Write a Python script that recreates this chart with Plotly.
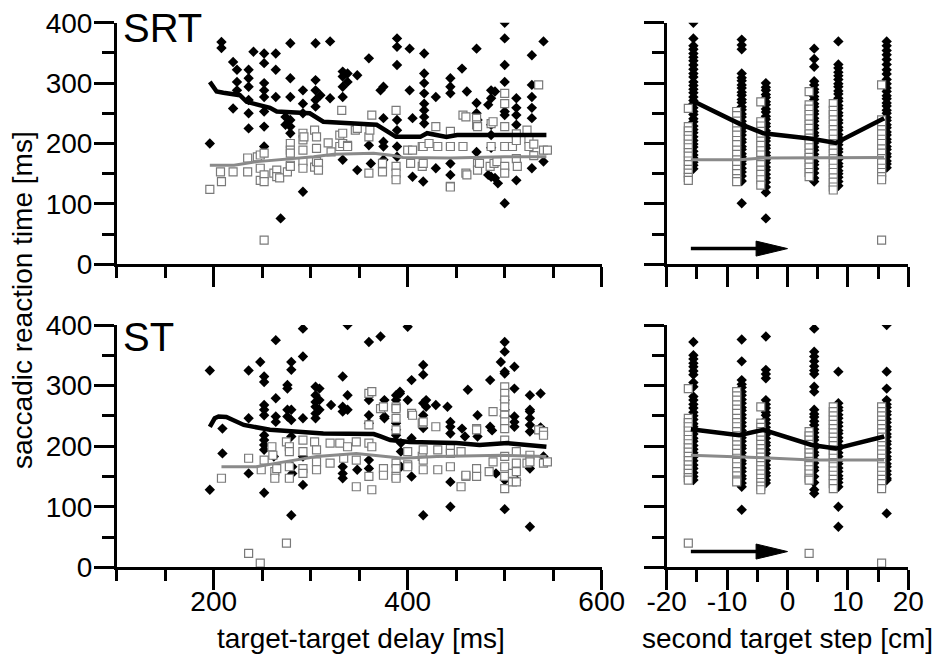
import plotly.graph_objects as go

W, H = 943, 657

# ======================= DATA =======================
# --- SRT vs target-target delay (ms) : black diamonds (per delay group) ---
srt_delay_black = [
    (196, [200]), (208, [368, 358]), (220, [335, 258]), (224, [322, 302, 288]),
    (236, [322, 308, 294, 272, 250, 225]), (241, [352]),
    (252, [349, 333, 300, 288, 277, 253, 228, 195]), (264, [349, 322, 277]),
    (269, [76]), (274, [244, 231]), (279, [366, 308, 277, 239, 228, 217]),
    (292, [288, 266, 250, 120]), (305, [366, 305, 288, 272, 261]), (310, [280]),
    (320, [369, 275]), (333, [319, 311, 294, 277, 173]), (338, [316, 302]),
    (348, [313, 156]), (360, [341, 197]), (362, [167]), (372, [288]),
    (375, [294, 242, 203, 195, 173]), (389, [374, 360, 330, 239, 222, 195, 178]),
    (402, [357, 288]), (405, [242, 145]), (416, [137]),
    (417, [349, 316, 300, 283, 266, 255, 244, 233]), (429, [277, 159]),
    (444, [308, 294, 283, 167, 148]), (456, [324]), (461, [286]),
    (471, [357, 267, 250, 186]), (472, [239]), (483, [264, 148]),
    (486, [288, 275, 231, 214, 193, 145]), (490, [286, 143]), (493, [134]),
    (500, [400, 374, 330, 302, 253, 247, 101]), (512, [275, 259, 247, 231, 139]),
    (528, [346, 297, 277, 259, 242, 159]), (540, [369, 170]),
]
# --- SRT vs delay : open grey squares ---
srt_delay_grey = [
    (196, [124]), (207, [153]), (208, [137]), (220, [153]), (235, [153, 176]),
    (245, [178]), (248, [181, 159, 139]), (252, [184, 148, 137, 40]),
    (262, [151]), (265, [156, 145]), (268, [143]), (276, [153]),
    (279, [200, 189, 184, 164, 162]), (292, [217, 206, 189, 170, 159]),
    (293, [211]), (304, [222, 161]), (306, [211, 192, 170]), (308, [167, 156]),
    (318, [201]), (321, [186]), (330, [214, 195]), (332, [255]),
    (333, [217, 200]), (338, [197, 195]), (346, [222]), (348, [225]),
    (360, [211, 151]), (361, [222]), (363, [247]), (374, [167, 153]),
    (388, [255, 162, 151, 140]), (400, [189]), (403, [167]), (405, [189]),
    (415, [195, 162]), (416, [195, 167]), (422, [200]), (429, [228]),
    (431, [195]), (444, [220, 195, 129, 128]), (457, [195, 247]),
    (460, [244, 151]), (461, [148]), (471, [242, 231]), (472, [228, 167, 156]),
    (474, [167]), (485, [162]), (486, [233, 195]), (488, [236]), (489, [167]),
    (492, [170]), (500, [283, 266, 228, 195, 162, 151]), (508, [195]),
    (512, [216, 205, 175]), (513, [162]), (523, [222]), (525, [207, 195]),
    (530, [199, 180]), (535, [297]), (540, [189]), (544, [189]),
]
srt_delay_black_line_x = [196, 203, 210, 227, 234, 258, 265, 299, 313, 361, 368, 388, 413, 420, 440, 451, 543]
srt_delay_black_line_y = [302, 286, 284, 280, 269, 259, 253, 250, 236, 231, 231, 211, 211, 217, 211, 214, 214]
srt_delay_grey_line_x = [196, 221, 245, 276, 303, 324, 365, 385, 395, 444, 500, 543]
srt_delay_grey_line_y = [164, 164, 170, 174, 178, 182, 184, 180, 177, 176, 178, 178]

# --- ST vs target-target delay (ms) ---
st_delay_black = [
    (196, [325, 128]), (209, [229, 188]), (236, [325, 246, 155]), (248, [339]),
    (252, [315, 306, 268, 260, 251, 218, 210, 202, 194, 123]), (262, [183]),
    (264, [375, 279, 249, 240]), (276, [301, 295, 260, 249]),
    (280, [339, 326, 260, 243, 216, 86]), (281, [166, 155]),
    (292, [394, 348, 246, 183, 136]), (305, [298, 284, 273, 265, 254, 246]),
    (309, [295, 276, 260]), (321, [268]), (333, [315, 265, 257, 166, 155, 147]),
    (338, [400, 284, 260]), (348, [161]), (360, [372, 276, 251, 238, 177, 163]),
    (372, [381]), (376, [276, 249, 246]), (388, [284, 276, 238, 227, 218]),
    (392, [290, 287]), (393, [205, 191, 166]), (400, [397, 276]),
    (404, [309, 213, 150]), (416, [334, 318, 271, 251, 230, 86]),
    (419, [276, 265]), (429, [268]), (441, [265]),
    (444, [240, 232, 221, 141, 100]), (456, [229]), (459, [216]), (462, [293]),
    (472, [251, 216]), (485, [309, 232]), (487, [226]), (491, [155]),
    (496, [339]), (500, [372, 356, 323, 320, 276, 260, 251, 249, 144, 96]),
    (510, [331, 295, 249, 240, 232]), (512, [144]),
    (526, [284, 260, 257, 246, 235, 224, 163, 67]), (537, [287, 231]), (540, [183]),
]
st_delay_grey = [
    (208, [147]), (236, [180, 23]), (248, [7]), (249, [161]), (252, [177]),
    (260, [199]), (261, [185]), (263, [158, 147]), (265, [163]),
    (275, [207, 40]), (278, [199, 191, 166, 147]), (292, [210, 191, 163, 155]),
    (304, [207]), (306, [194, 174, 161]), (320, [205, 172]), (330, [205]),
    (334, [180]), (338, [199]), (347, [207, 177, 133]),
    (360, [287, 235, 205, 150]), (363, [290, 199, 128]), (372, [262]),
    (375, [265, 163, 152]), (388, [265, 262, 246, 227, 172, 163, 150, 147]),
    (400, [191, 169, 166]), (404, [254]), (405, [251]), (415, [238, 183]),
    (416, [194, 177, 161, 240]), (429, [232]), (431, [194, 161]),
    (444, [196, 188, 166]), (455, [191, 133]), (460, [150, 152]),
    (471, [229, 227, 163, 150]), (484, [158]), (488, [257, 174]),
    (500, [298, 287, 276, 265, 251, 240, 229, 210, 183, 166, 150, 130]),
    (508, [155, 141]), (512, [191, 172, 158, 141]), (523, [172]),
    (526, [185, 174]), (535, [227]), (540, [224, 218, 172]), (544, [174]),
]
st_delay_black_line_x = [196, 201, 205, 213, 231, 258, 313, 365, 372, 382, 402, 450, 474, 503, 543]
st_delay_black_line_y = [232, 246, 249, 248, 235, 227, 221, 220, 216, 210, 207, 205, 202, 205, 199]
st_delay_grey_line_x = [208, 244, 265, 306, 347, 365, 395, 430, 498, 543]
st_delay_grey_line_y = [166, 166, 172, 183, 188, 185, 180, 183, 185, 183]

# --- second target step (cm) ---
step_values = [-16, -8, -4, 4, 8, 16]

srt_step_black = [
    [400, 374, 362, 356, 349, 343, 337, 330, 323, 316, 310, 302, 296, 290, 284, 277, 271, 266, 259, 253, 248, 241, 236, 229, 223, 218, 211, 205, 199, 194, 187, 181, 176, 169, 164, 158],
    [372, 363, 356, 316, 309, 304, 297, 292, 285, 280, 273, 268, 261, 256, 249, 244, 237, 232, 225, 220, 214, 207, 202, 195, 190, 183, 178, 171, 166, 159, 153, 146, 138, 101],
    [300, 293, 288, 281, 276, 269, 264, 257, 252, 245, 240, 233, 228, 221, 216, 209, 204, 197, 192, 185, 180, 173, 168, 161, 156, 149, 143, 136, 128, 119, 76],
    [357, 340, 327, 303, 297, 290, 285, 278, 273, 266, 261, 254, 249, 242, 237, 230, 225, 218, 213, 206, 201, 194, 189, 182, 177, 170, 165, 158, 151, 143, 137],
    [369, 331, 325, 318, 312, 306, 299, 294, 287, 282, 275, 270, 263, 258, 251, 246, 239, 234, 227, 222, 215, 210, 203, 198, 191, 186, 179, 174, 167, 162, 155, 150, 144, 137, 130],
    [369, 362, 354, 347, 339, 331, 322, 315, 306, 299, 292, 286, 279, 274, 267, 262, 255, 250, 243, 238, 231, 226, 219, 214, 207, 202, 195, 190, 183, 178, 171, 166, 160],
]
srt_step_grey = [
    [258, 228, 221, 213, 207, 199, 193, 185, 179, 171, 165, 157, 151, 144, 139],
    [253, 246, 237, 230, 221, 214, 205, 198, 189, 182, 173, 166, 157, 150, 142, 137],
    [269, 236, 229, 220, 213, 204, 197, 188, 181, 172, 165, 156, 149, 140, 131],
    [286, 264, 257, 248, 241, 232, 225, 216, 209, 200, 193, 184, 177, 168, 161, 152, 145],
    [266, 255, 248, 239, 232, 223, 216, 207, 200, 191, 184, 175, 168, 159, 152, 143, 136, 128, 123],
    [297, 239, 232, 223, 216, 207, 200, 191, 184, 175, 168, 159, 152, 145, 140, 40],
]
srt_step_black_line = [272, 233, 217, 208, 201, 242]
srt_step_grey_line = [173, 173, 176, 176, 176, 177]

st_step_black = [
    [372, 350, 344, 337, 331, 324, 318, 305, 298, 282, 276, 269, 263, 256, 250, 244, 237, 232, 225, 220, 213, 208, 201, 195, 189, 182, 176, 169, 163, 156, 150, 144],
    [376, 340, 309, 302, 297, 290, 284, 277, 271, 264, 259, 252, 246, 239, 233, 226, 221, 214, 208, 201, 196, 189, 183, 176, 171, 164, 158, 151, 146, 139, 133, 95],
    [381, 326, 319, 312, 276, 269, 263, 256, 251, 244, 238, 231, 226, 219, 213, 206, 201, 194, 188, 181, 176, 169, 163, 156, 151, 144, 139],
    [394, 356, 348, 340, 332, 325, 319, 298, 290, 260, 253, 248, 241, 235, 228, 222, 215, 210, 203, 197, 190, 185, 178, 172, 165, 160, 150, 140, 128, 122],
    [323, 271, 264, 259, 252, 246, 239, 233, 226, 221, 214, 208, 201, 196, 189, 183, 176, 171, 164, 158, 151, 146, 140, 133, 100, 67],
    [400, 323, 295, 276, 269, 264, 257, 252, 245, 239, 232, 227, 220, 215, 208, 203, 196, 190, 183, 178, 171, 166, 159, 153, 147, 144, 89],
]
st_step_grey = [
    [295, 246, 239, 232, 225, 218, 211, 204, 197, 190, 183, 176, 169, 162, 155, 148, 144, 40],
    [290, 283, 276, 268, 261, 254, 246, 239, 232, 224, 217, 210, 202, 195, 188, 180, 173, 166, 158, 151, 144, 141],
    [265, 238, 231, 224, 217, 210, 203, 196, 189, 182, 175, 168, 161, 154, 147, 140, 134, 128],
    [224, 217, 210, 203, 196, 189, 182, 175, 168, 161, 154, 147, 144, 23],
    [265, 257, 250, 243, 236, 229, 222, 215, 208, 201, 194, 187, 180, 173, 166, 159, 152, 145, 138, 130],
    [265, 257, 250, 243, 236, 229, 222, 215, 208, 201, 194, 187, 180, 173, 166, 159, 152, 145, 138, 130, 7],
]
st_step_black_line = [228, 218, 227, 202, 196, 216]
st_step_grey_line = [185, 183, 181, 177, 177, 177]

# direction arrow (cm, ms)
arrow_start, arrow_end, arrow_y = -16, 0, 26

delay_ticks = [200, 400, 600]
step_ticks = [-20, -10, 0, 10, 20]
rt_ticks = [0, 100, 200, 300, 400]

# ======================= STYLE / LAYOUT =======================
FONT = "Liberation Sans, Arial, Helvetica, sans-serif"
BLACK = "#000000"
GREY = "#8a8a8a"
GREY_SQ = "#7a7a7a"
TXT = 28
DODGE = 0.42

# the page body has an 8 px default margin: lay out in window pixels, then shift
OFF = 8
FW, FH = W - OFF, H - OFF


def px_x(p):
    return (p - OFF) / FW


def px_y(p):
    return 1 - (p - OFF) / FH


def flatten(groups):
    xs, ys = [], []
    for x, vals in groups:
        for v in vals:
            xs.append(x)
            ys.append(v)
    return xs, ys


def flatten_cols(cols, offset):
    xs, ys = [], []
    for s, vals in zip(step_values, cols):
        for v in vals:
            xs.append(s + offset)
            ys.append(v)
    return xs, ys


LX = (px_x(116.7), px_x(601.7))
RX = (px_x(666.7), px_x(908.3))
TY = (px_y(264.3), px_y(22.7))
BY = (px_y(567.3), px_y(325.0))

fig = go.Figure()


def add_panel(xa, ya, black, grey, bline, gline):
    bx, by = black
    gx, gy = grey
    fig.add_trace(go.Scatter(x=bx, y=by, mode="markers", xaxis=xa, yaxis=ya,
                             marker=dict(symbol="diamond", size=8, color=BLACK, line=dict(width=0)),
                             showlegend=False, hoverinfo="skip"))
    fig.add_trace(go.Scatter(x=gx, y=gy, mode="markers", xaxis=xa, yaxis=ya,
                             marker=dict(symbol="square", size=8, color="white",
                                         line=dict(color=GREY_SQ, width=1.2)),
                             showlegend=False, hoverinfo="skip"))
    fig.add_trace(go.Scatter(x=gline[0], y=gline[1], mode="lines", xaxis=xa, yaxis=ya,
                             line=dict(color=GREY, width=3), showlegend=False, hoverinfo="skip"))
    fig.add_trace(go.Scatter(x=bline[0], y=bline[1], mode="lines", xaxis=xa, yaxis=ya,
                             line=dict(color=BLACK, width=4.5), showlegend=False, hoverinfo="skip"))


add_panel("x", "y", flatten(srt_delay_black), flatten(srt_delay_grey),
          (srt_delay_black_line_x, srt_delay_black_line_y), (srt_delay_grey_line_x, srt_delay_grey_line_y))
add_panel("x2", "y2", flatten_cols(srt_step_black, DODGE), flatten_cols(srt_step_grey, -DODGE),
          (step_values, srt_step_black_line), (step_values, srt_step_grey_line))
add_panel("x3", "y3", flatten(st_delay_black), flatten(st_delay_grey),
          (st_delay_black_line_x, st_delay_black_line_y), (st_delay_grey_line_x, st_delay_grey_line_y))
add_panel("x4", "y4", flatten_cols(st_step_black, DODGE), flatten_cols(st_step_grey, -DODGE),
          (step_values, st_step_black_line), (step_values, st_step_grey_line))

tickfont = dict(family=FONT, size=TXT, color=BLACK)
common = dict(showline=True, linewidth=2.5, linecolor=BLACK, showgrid=False, zeroline=False,
              ticks="outside", ticklen=20, tickwidth=2.5, tickcolor=BLACK, tickfont=tickfont,
              fixedrange=True, automargin=False, ticklabeloverflow="allow")


def xdelay(domain, anchor, labels):
    return dict(common, domain=domain, anchor=anchor, range=[100, 600],
                tickmode="array", tickvals=delay_ticks, ticktext=[str(t) for t in delay_ticks],
                showticklabels=labels, ticklabelstandoff=-13,
                minor=dict(tickmode="array", tickvals=[100, 150, 250, 300, 350, 450, 500, 550],
                           ticks="outside", ticklen=11, tickwidth=2.5, tickcolor=BLACK))


def xstep(domain, anchor, labels):
    return dict(common, domain=domain, anchor=anchor, range=[-20, 20],
                tickmode="array", tickvals=step_ticks, ticktext=[str(t) for t in step_ticks],
                showticklabels=labels, ticklabelstandoff=-13,
                minor=dict(tickmode="array", tickvals=[-15, -5, 5, 15],
                           ticks="outside", ticklen=12, tickwidth=2.5, tickcolor=BLACK))


def yrt(domain, anchor, labels):
    return dict(common, domain=domain, anchor=anchor, range=[0, 400],
                tickmode="array", tickvals=rt_ticks, ticktext=[str(t) for t in rt_ticks],
                showticklabels=labels, ticklabelstandoff=-4,
                minor=dict(tickmode="array", tickvals=[50, 150, 250, 350],
                           ticks="outside", ticklen=12, tickwidth=2.5, tickcolor=BLACK))


fig.update_layout(
    template="none",
    width=FW, height=FH,
    margin=dict(l=0, r=0, t=0, b=0, autoexpand=False),
    paper_bgcolor="white", plot_bgcolor="white",
    font=dict(family=FONT, color=BLACK),
    xaxis=xdelay(LX, "y", False),
    yaxis=yrt(TY, "x", True),
    xaxis2=xstep(RX, "y2", False),
    yaxis2=yrt(TY, "x2", False),
    xaxis3=xdelay(LX, "y3", True),
    yaxis3=yrt(BY, "x3", True),
    xaxis4=xstep(RX, "y4", True),
    yaxis4=yrt(BY, "x4", False),
)

# arrows in the step panels
head_len_cm = 5.2
head_half_ms = 12.4
for xr, yr in (("x2", "y2"), ("x4", "y4")):
    base = arrow_end - head_len_cm
    fig.add_shape(type="line", xref=xr, yref=yr, x0=arrow_start, x1=base + 0.5,
                  y0=arrow_y, y1=arrow_y, line=dict(color=BLACK, width=3.5))
    fig.add_shape(type="path", xref=xr, yref=yr,
                  path=f"M {base},{arrow_y - head_half_ms} L {arrow_end},{arrow_y} L {base},{arrow_y + head_half_ms} Z",
                  fillcolor=BLACK, line=dict(color=BLACK, width=1))

# panel labels and axis titles
fig.add_annotation(text="SRT", xref="paper", yref="paper", x=px_x(121), y=px_y(28),
                   xanchor="left", yanchor="middle", showarrow=False,
                   font=dict(family=FONT, size=40, color=BLACK))
fig.add_annotation(text="ST", xref="paper", yref="paper", x=px_x(121), y=px_y(337),
                   xanchor="left", yanchor="middle", showarrow=False,
                   font=dict(family=FONT, size=40, color=BLACK))
fig.add_annotation(text="target-target delay [ms]", xref="paper", yref="paper",
                   x=px_x(361), y=px_y(638), xanchor="center", yanchor="middle", showarrow=False,
                   font=dict(family=FONT, size=TXT, color=BLACK))
fig.add_annotation(text="second target step [cm]", xref="paper", yref="paper",
                   x=px_x(787), y=px_y(638), xanchor="center", yanchor="middle", showarrow=False,
                   font=dict(family=FONT, size=TXT, color=BLACK))
fig.add_annotation(text="saccadic reaction time [ms]", xref="paper", yref="paper",
                   x=px_x(23), y=px_y(300), xanchor="center", yanchor="middle", showarrow=False,
                   textangle=-90, font=dict(family=FONT, size=TXT, color=BLACK))

fig.write_html("out.html")
